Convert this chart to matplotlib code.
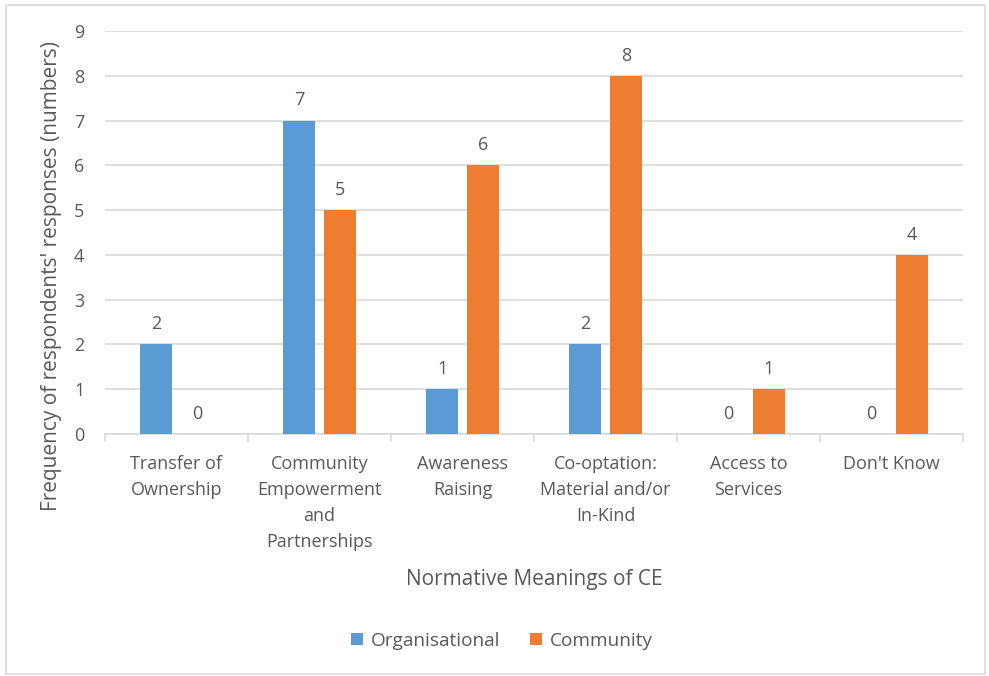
import matplotlib.pyplot as plt
import matplotlib.patches as mpatches
import numpy as np

plt.rcParams['font.family'] = ['Open Sans', 'DejaVu Sans']

categories = ["Transfer of\nOwnership", "Community\nEmpowerment\nand\nPartnerships",
              "Awareness\nRaising", "Co-optation:\nMaterial and/or\nIn-Kind",
              "Access to\nServices", "Don't Know"]
organisational = [2, 7, 1, 2, 0, 0]
community = [0, 5, 6, 8, 1, 4]
series_names = ["Organisational", "Community"]

blue = "#5B9BD5"
orange = "#ED7D31"
grid_col = "#D9D9D9"
text_col = "#595959"

fig = plt.figure(figsize=(9.89, 6.76), dpi=100)
ax = fig.add_axes([105/989, (676-434)/676, (963-105)/989, (434-31)/676])

# light frame round the whole chart
fig.patches.append(mpatches.Rectangle((6/989, 2/676), 979/989, 669/676, transform=fig.transFigure,
                                      fill=False, edgecolor=grid_col, linewidth=1.2))

x = np.arange(len(categories))
w = 0.224
off = 0.143
b1 = ax.bar(x - off, organisational, w, color=blue, label=series_names[0], zorder=3)
b2 = ax.bar(x + off, community, w, color=orange, label=series_names[1], zorder=3)

for bars, vals in ((b1, organisational), (b2, community)):
    for rect, v in zip(bars, vals):
        ax.annotate(str(v), (rect.get_x() + rect.get_width()/2, v), xytext=(0, 8),
                    textcoords="offset points", ha="center", va="bottom",
                    fontsize=13, color=text_col)

ax.set_xlim(-0.5, len(categories) - 0.5)
ax.set_ylim(0, 9)
ax.set_yticks(range(10))
ax.yaxis.grid(True, color=grid_col, linewidth=1.2, zorder=0)
ax.set_axisbelow(True)
for s in ("top", "right", "left"):
    ax.spines[s].set_visible(False)
ax.spines["bottom"].set_color(grid_col)
ax.spines["bottom"].set_linewidth(1.2)

ax.set_xticks(np.arange(-0.5, len(categories)), minor=False)
ax.set_xticklabels([])
ax.set_xticks(x, minor=True)
ax.set_xticklabels(categories, minor=True, fontsize=13, color=text_col, linespacing=1.58, va="top")
ax.tick_params(axis="x", which="major", length=6, color=grid_col, width=1.2)
ax.tick_params(axis="x", which="minor", length=0, pad=15)
ax.tick_params(axis="y", length=0, labelsize=13, labelcolor=text_col, pad=15)

ax.set_ylabel("Frequency of respondents' responses (numbers)", fontsize=15, color=text_col)
ax.yaxis.set_label_coords((52 - 105) / 858, (434 - 276) / 403)
ax.yaxis.label.set_va("center")
ax.set_xlabel("Normative Meanings of CE", fontsize=15, color=text_col)
ax.xaxis.set_label_coords(0.5, (434 - 579) / 403)
ax.xaxis.label.set_va("center")

fig.legend(handles=[b1, b2], labels=series_names, loc="center", bbox_to_anchor=(502/989, 1 - 641/676),
           ncol=2, frameon=False, fontsize=13.7, labelcolor=text_col, handlelength=0.6, handleheight=0.6,
           handletextpad=0.4, columnspacing=1.6)

fig.savefig("out.png", dpi=100, facecolor="white")
